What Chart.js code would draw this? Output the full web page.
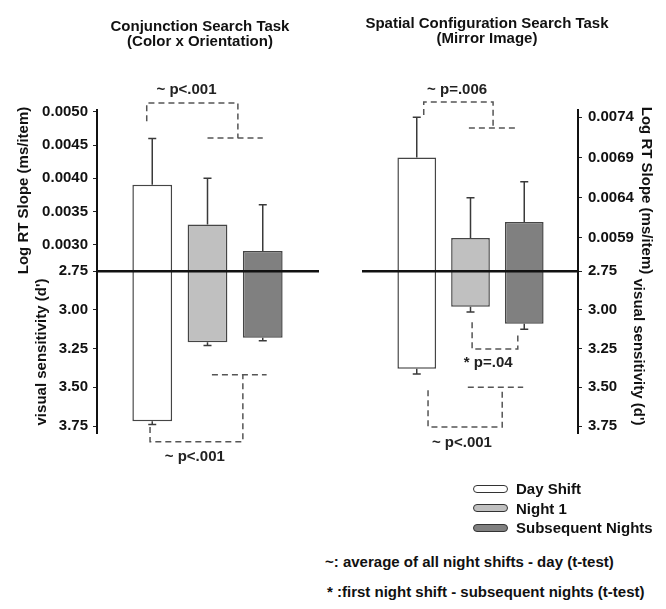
<!DOCTYPE html>
<html>
<head>
<meta charset="utf-8">
<script src="https://cdn.jsdelivr.net/npm/chart.js@4.4.1/dist/chart.umd.min.js"></script>
<style>
  body { margin: 0; background: #fff; }
  #page { position: relative; width: 666px; height: 609px; overflow: hidden;
          font-family: 'Liberation Sans', Arial, sans-serif; font-weight: bold; color: #111; }
  canvas { position: absolute; top: 0; }
  #left { left: 0; }
  #right { left: 333px; }
  .ptitle { position: absolute; width: 300px; text-align: center; font-size: 15px; line-height: 15px; }
  #legend { position: absolute; left: 473px; top: 479px; font-size: 15px; }
  .lrow { height: 19.5px; line-height: 19.5px; display: flex; align-items: center; }
  .lbox { width: 35px; height: 8px; border: 1.3px solid #333; border-radius: 4px; margin-right: 8px; box-sizing: border-box; }
  .note { position: absolute; font-size: 15px; line-height: 18px; white-space: nowrap; }
</style>
</head>
<body>
<div id="page">
  <canvas id="left" width="333" height="480"></canvas>
  <canvas id="right" width="333" height="480"></canvas>
  <div class="ptitle" style="left:50px; top:18px;">Conjunction Search Task<br>(Color x Orientation)</div>
  <div class="ptitle" style="left:337px; top:15px;">Spatial Configuration Search Task<br>(Mirror Image)</div>
  <div id="legend"></div>
  <div class="note" style="left:325px; top:553px;">~: average of all night shifts - day (t-test)</div>
  <div class="note" style="left:327px; top:583px;">* :first night shift - subsequent nights (t-test)</div>
</div>
<script>
// groups (bars, left to right)
const categories = ['Day Shift', 'Night 1', 'Subsequent Nights'];
const barFills = ['#ffffff', '#c0c0c0', '#808080'];

// Conjunction search task (color x orientation)
const conjSlope = [0.0039, 0.0033, 0.0029];
const conjSlopeErr = [0.0007, 0.0007, 0.0007];
const conjDprime = [3.72, 3.21, 3.18];
const conjDprimeErr = [0.02, 0.02, 0.02];

// Spatial configuration search task (mirror image)
const spatSlope = [0.0069, 0.0059, 0.0061];
const spatSlopeErr = [0.0005, 0.0005, 0.0005];
const spatDprime = [3.38, 2.98, 3.09];
const spatDprimeErr = [0.035, 0.035, 0.035];

// axes
const conjSlopeTicks = [0.0030, 0.0035, 0.0040, 0.0045, 0.0050];
const spatSlopeTicks = [0.0059, 0.0064, 0.0069, 0.0074];
const dprimeTicks = [2.75, 3.00, 3.25, 3.50, 3.75];
const conjSlopeRange = [0.0026, 0.00503];
const spatSlopeRange = [0.00549, 0.00749];
const dprimeRange = [2.75, 3.795];

// significance brackets (x = group position, y = axis value, null = break)
const conjBrackets = [
  {axis: 'yTop', path: [[0.9, 0.00486], [0.9, 0.005136], [2.55, 0.005136], [2.55, 0.004607], null, [2.0, 0.004607], [3.0, 0.004607]]},
  {axis: 'yBot', path: [[0.96, 3.756], [0.96, 3.851], [2.64, 3.851], [2.64, 3.42], null, [2.08, 3.42], [3.07, 3.42]]}
];
const spatBrackets = [
  {axis: 'yTop', path: [[1.13, 0.007428], [1.13, 0.007589], [2.42, 0.007589], [2.42, 0.007266], null, [1.97, 0.007266], [2.83, 0.007266]]},
  {axis: 'yBot', path: [[2.03, 3.08], [2.03, 3.253], [2.88, 3.253], [2.88, 3.14]]},
  {axis: 'yBot', path: [[1.21, 3.52], [1.21, 3.756], [2.59, 3.756], [2.59, 3.50], null, [1.95, 3.50], [2.98, 3.50]]}
];
const conjNotes = [
  {axis: 'yTop', x: 1.62, y: 0.005332, text: '~ p<.001'},
  {axis: 'yBot', x: 1.77, y: 3.95, text: '~ p<.001'}
];
const spatNotes = [
  {axis: 'yTop', x: 1.75, y: 0.007738, text: '~ p=.006'},
  {axis: 'yBot', x: 2.33, y: 3.344, text: '* p=.04'},
  {axis: 'yBot', x: 1.84, y: 3.86, text: '~ p<.001'}
];

Chart.defaults.font.family = "'Liberation Sans', Arial, sans-serif";
Chart.defaults.font.size = 15;
Chart.defaults.font.weight = 'bold';
Chart.defaults.color = '#111';

const errorBars = {
  id: 'errorBars',
  afterDatasetsDraw(chart) {
    const ctx = chart.ctx;
    chart.data.datasets.forEach((ds, i) => {
      if (!ds.errors) return;
      const scale = chart.scales[ds.yAxisID];
      ctx.save();
      ctx.strokeStyle = '#3a3a3a';
      ctx.lineWidth = 1.5;
      chart.getDatasetMeta(i).data.forEach((bar, j) => {
        const v = ds.data[j].y;
        const y0 = scale.getPixelForValue(v);
        const y1 = scale.getPixelForValue(v + ds.errors[j]);
        ctx.beginPath();
        ctx.moveTo(bar.x, y0);
        ctx.lineTo(bar.x, y1);
        ctx.moveTo(bar.x - 4, y1);
        ctx.lineTo(bar.x + 4, y1);
        ctx.stroke();
      });
      ctx.restore();
    });
  }
};

function notesPlugin(notes) {
  return {
    id: 'sigNotes',
    afterDatasetsDraw(chart) {
      const ctx = chart.ctx;
      ctx.save();
      ctx.font = "bold 15px 'Liberation Sans', Arial, sans-serif";
      ctx.fillStyle = '#222';
      ctx.textAlign = 'center';
      ctx.textBaseline = 'middle';
      notes.forEach(n => {
        ctx.fillText(n.text, chart.scales.x.getPixelForValue(n.x), chart.scales[n.axis].getPixelForValue(n.y));
      });
      ctx.restore();
    }
  };
}

function buildChart(id, p) {
  const xs = categories.map((c, i) => i + 1);
  const datasets = [
    {
      type: 'bar', label: 'Log RT Slope', yAxisID: 'yTop',
      data: xs.map((x, i) => ({x: x, y: p.slope[i]})),
      errors: p.slopeErr, base: p.slopeRange[0],
      backgroundColor: barFills, borderColor: '#454545', borderWidth: 1.5,
      grouped: false, order: 2
    },
    {
      type: 'bar', label: 'visual sensitivity', yAxisID: 'yBot',
      data: xs.map((x, i) => ({x: x, y: p.dprime[i]})),
      errors: p.dprimeErr, base: dprimeRange[0],
      backgroundColor: barFills, borderColor: '#454545', borderWidth: 1.5,
      grouped: false, order: 2
    }
  ];
  p.brackets.forEach(b => datasets.push({
    type: 'line', yAxisID: b.axis,
    data: b.path.map(pt => pt ? {x: pt[0], y: pt[1]} : {x: null, y: null}),
    borderColor: '#555', borderWidth: 1.5, borderDash: [6, 4],
    pointRadius: 0, fill: false, clip: false, spanGaps: false, order: 1
  }));

  const side = p.side;
  const yAxis = (range, ticks, digits, title, pad, weight, reverse) => ({
    type: 'linear', axis: 'y', position: side, stack: side, stackWeight: weight[0], weight: weight[1],
    min: range[0], max: range[1], reverse: reverse,
    afterBuildTicks: s => { s.ticks = ticks.map(v => ({value: v})); },
    afterFit: s => { s.width = p.axisWidth; },
    ticks: {autoSkip: false, padding: p.tickPad, callback: v => Number(v).toFixed(digits)},
    grid: {drawOnChartArea: false, tickLength: 4, color: '#222'},
    border: {color: '#111', width: 2},
    title: {display: true, text: title, color: '#111', padding: {top: pad, bottom: 0}}
  });

  return new Chart(document.getElementById(id), {
    data: {datasets: datasets},
    plugins: [errorBars, notesPlugin(p.notes)],
    options: {
      responsive: false,
      animation: false,
      events: [],
      layout: {padding: p.padding},
      plugins: {legend: {display: false}, tooltip: {enabled: false}},
      scales: {
        x: {
          type: 'linear', min: 0, max: 4, offset: false, position: {yBot: dprimeRange[0]},
          afterBuildTicks: s => { s.ticks = xs.map(v => ({value: v})); },
          ticks: {display: false},
          grid: {offset: false, drawOnChartArea: false, tickLength: 3, color: '#333'},
          border: {color: '#111', width: 2.5, z: 1}
        },
        yTop: yAxis(p.slopeRange, p.slopeTicks, 4, 'Log RT Slope (ms/item)', p.titlePad[0],
                    [161, side === 'left' ? 2 : 1], false),
        yBot: yAxis(dprimeRange, dprimeTicks, 2, "visual sensitivity (d')", p.titlePad[1],
                    [162, side === 'left' ? 1 : 2], true)
      }
    }
  });
}

buildChart('left', {
  side: 'left', slope: conjSlope, slopeErr: conjSlopeErr, dprime: conjDprime, dprimeErr: conjDprimeErr,
  slopeTicks: conjSlopeTicks, slopeRange: conjSlopeRange, brackets: conjBrackets, notes: conjNotes,
  axisWidth: 97, tickPad: 5, titlePad: [15, 33],
  padding: {left: 0, right: 15, top: 110, bottom: 47}
});
buildChart('right', {
  side: 'right', slope: spatSlope, slopeErr: spatSlopeErr, dprime: spatDprime, dprimeErr: spatDprimeErr,
  slopeTicks: spatSlopeTicks, slopeRange: spatSlopeRange, brackets: spatBrackets, notes: spatNotes,
  axisWidth: 88, tickPad: 6, titlePad: [11, 19],
  padding: {left: 30, right: 0, top: 110, bottom: 47}
});

// legend
const legend = document.getElementById('legend');
categories.forEach((c, i) => {
  const row = document.createElement('div');
  row.className = 'lrow';
  const box = document.createElement('span');
  box.className = 'lbox';
  box.style.background = barFills[i];
  const txt = document.createElement('span');
  txt.textContent = c;
  row.append(box, txt);
  legend.append(row);
});
</script>
</body>
</html>
